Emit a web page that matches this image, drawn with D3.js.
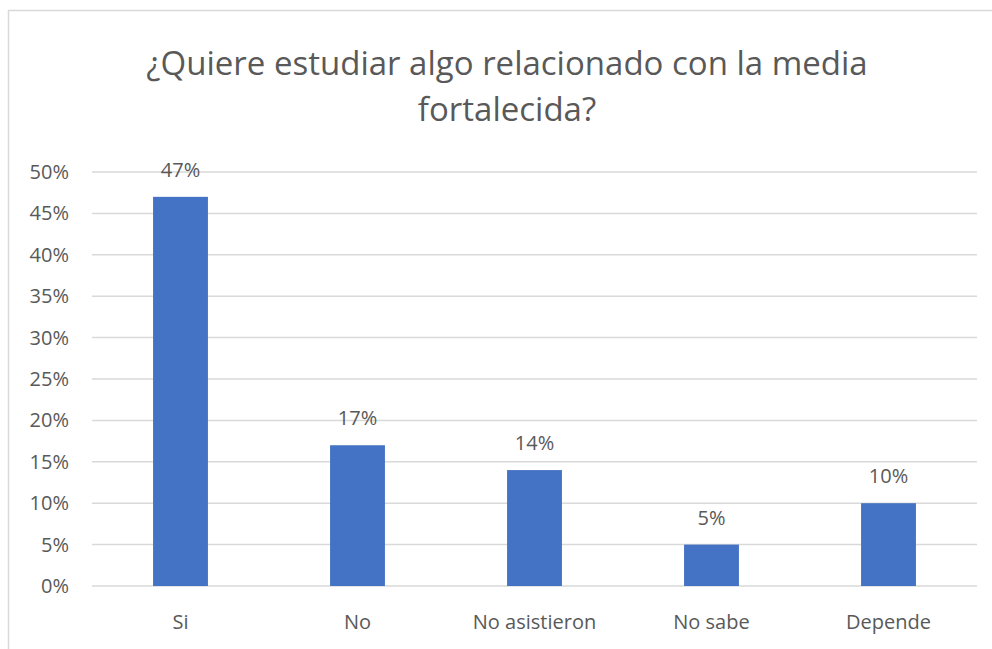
<!DOCTYPE html>
<html>
<head>
<meta charset="utf-8">
<script src="https://cdn.jsdelivr.net/npm/d3@7"></script>
<style>
  html, body { margin: 0; padding: 0; background: #fff; }
  svg { display: block; font-family: "Open Sans", "Liberation Sans", sans-serif; }
</style>
</head>
<body>
<div id="chart"></div>
<script>
const categories = ['Si', 'No', 'No asistieron', 'No sabe', 'Depende'];
const values = [0.47, 0.17, 0.14, 0.05, 0.10];
const yTicks = [0, 0.05, 0.10, 0.15, 0.20, 0.25, 0.30, 0.35, 0.40, 0.45, 0.50];
const titleLines = ['¿Quiere estudiar algo relacionado con la media', 'fortalecida?'];

const width = 992;
const height = 649;
const textColor = '#595959';
const labelSize = '20px';

const svg = d3.select('#chart')
  .append('svg')
  .attr('width', width)
  .attr('height', height);

// chart frame
svg.append('rect')
  .attr('x', 8.5)
  .attr('y', 10.5)
  .attr('width', width + 10)
  .attr('height', height + 10)
  .attr('fill', 'none')
  .attr('stroke', '#d9d9d9')
  .attr('stroke-width', 1.5);

// title
svg.append('text')
  .attr('text-anchor', 'middle')
  .attr('fill', textColor)
  .style('font-size', '33px')
  .selectAll('tspan')
  .data(titleLines)
  .enter()
  .append('tspan')
  .attr('x', 507)
  .attr('y', (d, i) => 75 + i * 46)
  .text(d => d);

const x = d3.scaleBand()
  .domain(categories)
  .range([92, 977])
  .paddingInner(0.69)
  .paddingOuter(0.345);

const y = d3.scaleLinear()
  .domain([0, 0.5])
  .range([586, 172]);

// gridlines
svg.append('g')
  .selectAll('line')
  .data(yTicks)
  .enter()
  .append('line')
  .attr('x1', 92)
  .attr('x2', 977)
  .attr('y1', d => y(d))
  .attr('y2', d => y(d))
  .attr('stroke', '#d9d9d9')
  .attr('stroke-width', 1.5);

// y axis labels
const yAxis = d3.axisLeft(y)
  .tickValues(yTicks)
  .tickFormat(d3.format('.0%'))
  .tickSize(0)
  .tickPadding(0);

svg.append('g')
  .attr('transform', 'translate(69,0)')
  .call(yAxis)
  .call(g => g.select('.domain').remove())
  .selectAll('text')
  .attr('fill', textColor)
  .style('font-size', labelSize)
  .style('font-family', '"Open Sans", sans-serif');

// bars
svg.append('g')
  .selectAll('rect')
  .data(values)
  .enter()
  .append('rect')
  .attr('x', (d, i) => x(categories[i]))
  .attr('y', d => y(d))
  .attr('width', x.bandwidth())
  .attr('height', d => y(0) - y(d))
  .attr('fill', '#4472C4');

// value labels
svg.append('g')
  .selectAll('text')
  .data(values)
  .enter()
  .append('text')
  .attr('x', (d, i) => x(categories[i]) + x.bandwidth() / 2)
  .attr('y', d => y(d) - 20)
  .attr('text-anchor', 'middle')
  .attr('fill', textColor)
  .style('font-size', labelSize)
  .text(d => d3.format('.0%')(d));

// x axis labels
const xAxis = d3.axisBottom(x)
  .tickSize(0)
  .tickPadding(0);

svg.append('g')
  .attr('transform', 'translate(0,615)')
  .call(xAxis)
  .call(g => g.select('.domain').remove())
  .selectAll('text')
  .attr('fill', textColor)
  .style('font-size', labelSize)
  .style('font-family', '"Open Sans", sans-serif');
</script>
</body>
</html>
